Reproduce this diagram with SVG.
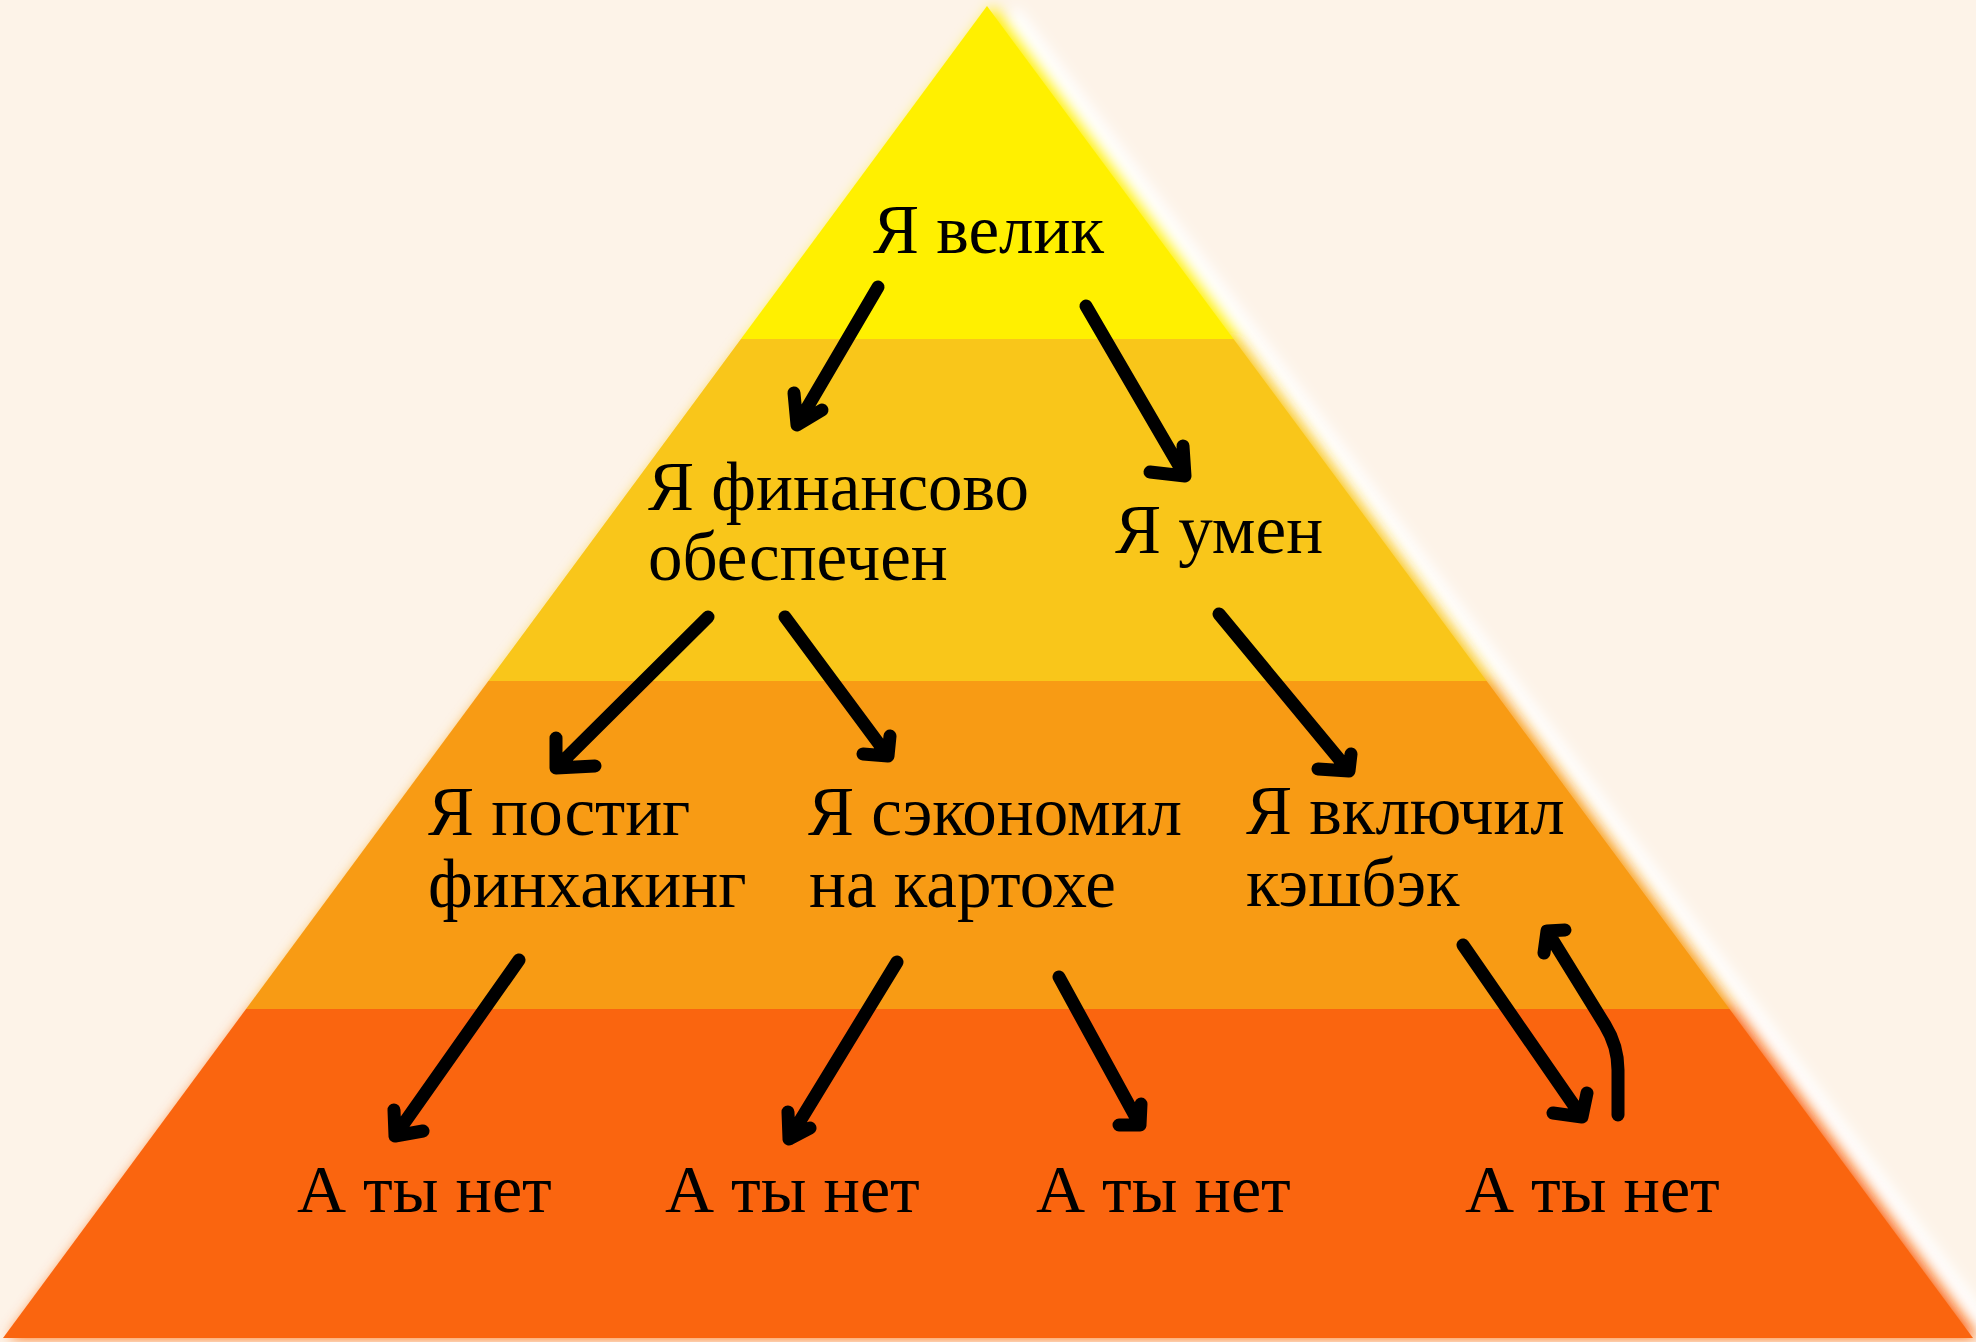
<svg xmlns="http://www.w3.org/2000/svg" width="1976" height="1342" viewBox="0 0 1976 1342">
<defs>
<style>
.t{font-family:"Liberation Serif","Times New Roman",serif;font-size:69px;fill:#000}
.b{font-size:68px}
.a{fill:none;stroke:#000;stroke-width:13;stroke-linecap:round;stroke-linejoin:round}
</style>
<clipPath id="tri"><polygon points="987,6 3,1338 1973,1338"/></clipPath>
<filter id="soft" x="-10%" y="-10%" width="120%" height="120%"><feGaussianBlur stdDeviation="7"/></filter>
<g id="bands">
<rect x="0" y="0" width="1976" height="339" fill="#fff000"/>
<rect x="0" y="339" width="1976" height="342" fill="#f9c61a"/>
<rect x="0" y="681" width="1976" height="328" fill="#f89b14"/>
<rect x="0" y="1009" width="1976" height="333" fill="#fa650f"/>
</g>
</defs>
<rect width="1976" height="1342" fill="#fdf3e8"/>
<g id="pyramid">
<polygon points="1003,6 3,1338 1990,1338" fill="#ffffff" filter="url(#soft)" transform="translate(14,0)"/>
<g filter="url(#soft)" transform="translate(6,0)"><g clip-path="url(#tri)"><use href="#bands"/></g></g>
<g clip-path="url(#tri)"><use href="#bands"/></g>
</g>
<g id="connectors">
<path class="a" d="M878,287 L797,425 M794,393 L797,425 L822,410"/>
<path class="a" d="M1086,306 L1185,476 M1150,472 L1185,476 L1183,446"/>
<path class="a" d="M708,617 L556,768 M595,766 L556,768 L556,738"/>
<path class="a" d="M785,617 L888,756 M863,754 L888,756 L890,736"/>
<path class="a" d="M1219,614 L1349,771 M1318,769 L1349,771 L1351,754"/>
<path class="a" d="M519,960 L395,1136 M423,1131 L395,1136 L394,1110"/>
<path class="a" d="M897,962 L789,1139 M810,1128 L789,1139 L788,1112"/>
<path class="a" d="M1059,977 L1140,1125 M1119,1125 L1140,1125 L1141,1104"/>
<path class="a" d="M1463,945 L1582,1117 M1553,1113 L1582,1117 L1587,1093"/>
<path class="a" d="M1618,1115 L1618,1070 Q1618,1046 1605,1025 L1547,931 M1565,930 L1547,931 L1544,953"/>
</g>
<g id="n-velik"><text class="t" x="873" y="253">Я велик</text></g>
<g id="n-fin"><text class="t" x="648" y="510">Я финансово</text><text class="t" x="648" y="580">обеспечен</text></g>
<g id="n-umen"><text class="t" x="1115" y="553">Я умен</text></g>
<g id="n-postig"><text class="t" x="428" y="835">Я постиг</text><text class="t" x="428" y="907">финхакинг</text></g>
<g id="n-sekon"><text class="t" x="808" y="835">Я сэкономил</text><text class="t" x="809" y="907">на картохе</text></g>
<g id="n-vkl"><text class="t" x="1246" y="834">Я включил</text><text class="t" x="1246" y="906">кэшбэк</text></g>
<g id="n-net1"><text class="t b" x="297" y="1212">А ты нет</text></g>
<g id="n-net2"><text class="t b" x="665" y="1212">А ты нет</text></g>
<g id="n-net3"><text class="t b" x="1036" y="1212">А ты нет</text></g>
<g id="n-net4"><text class="t b" x="1465" y="1212">А ты нет</text></g>
</svg>
